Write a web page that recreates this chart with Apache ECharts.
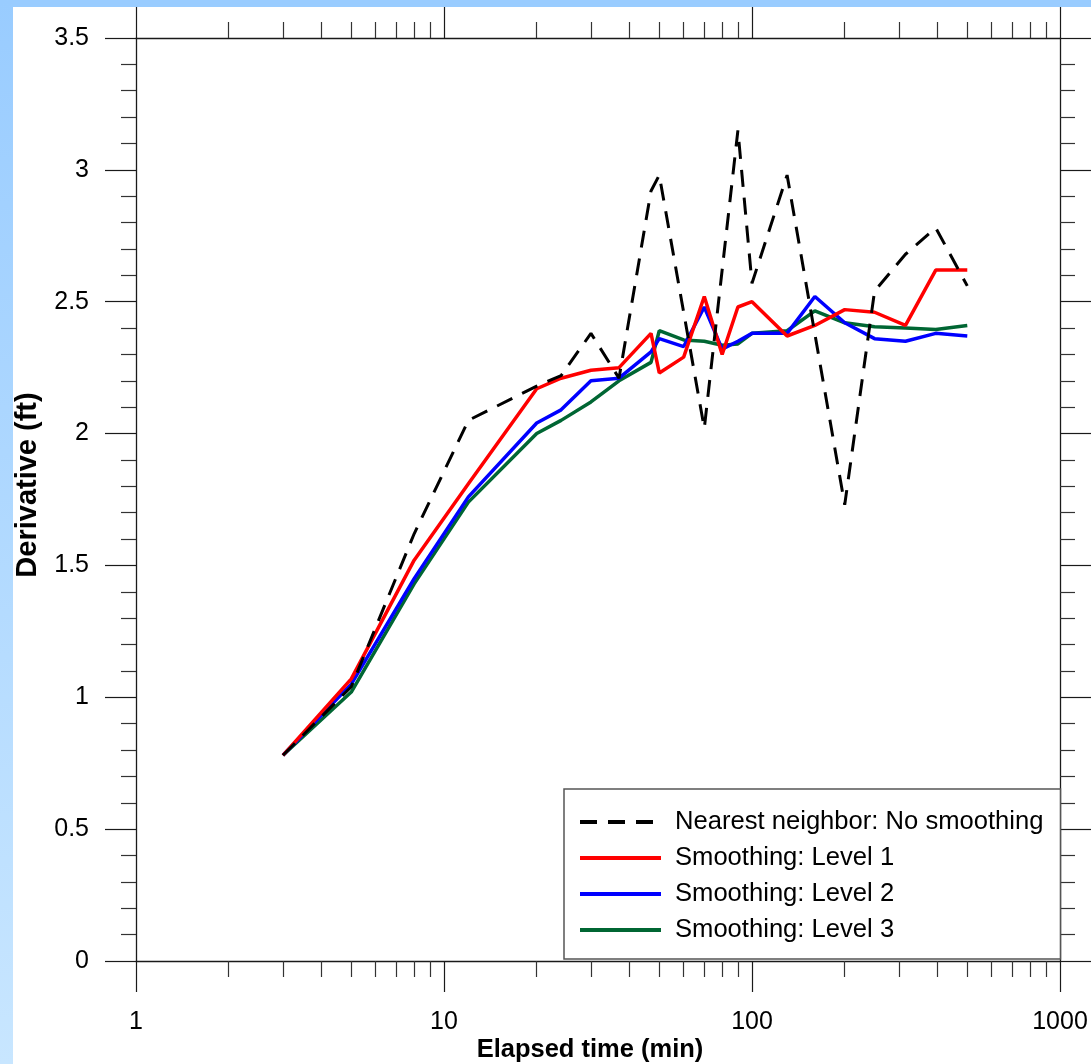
<!DOCTYPE html>
<html>
<head>
<meta charset="utf-8">
<title>Derivative vs elapsed time</title>
<script src="https://cdn.jsdelivr.net/npm/echarts@6/dist/echarts.min.js"></script>
<style>
  html, body { margin: 0; padding: 0; background: #ffffff; }
  #chart { width: 1091px; height: 1064px; }
</style>
</head>
<body>
<div id="chart"></div>
<script>
// Elapsed time (min) sample points
const timeSmooth = [3, 5, 8, 12, 20, 24, 30, 37, 47, 50, 60, 70, 80, 90, 100, 130, 160, 200, 250, 315, 395, 500];
const timeRaw = [3, 5, 8, 12, 20, 24, 30, 37, 47, 50, 70, 90, 100, 130, 200, 250, 315, 395, 500];

// Derivative (ft)
const nearestNeighbor = [0.78, 1.04, 1.62, 2.05, 2.18, 2.22, 2.38, 2.21, 2.92, 2.98, 2.02, 3.15, 2.57, 2.98, 1.73, 2.54, 2.68, 2.78, 2.56];
const smoothLevel1 = [0.78, 1.07, 1.52, 1.81, 2.17, 2.21, 2.24, 2.25, 2.38, 2.23, 2.29, 2.52, 2.30, 2.48, 2.50, 2.37, 2.41, 2.47, 2.46, 2.41, 2.62, 2.62];
const smoothLevel2 = [0.78, 1.05, 1.45, 1.76, 2.04, 2.09, 2.20, 2.21, 2.31, 2.36, 2.33, 2.48, 2.32, 2.35, 2.38, 2.38, 2.52, 2.42, 2.36, 2.35, 2.38, 2.37];
const smoothLevel3 = [0.78, 1.02, 1.43, 1.74, 2.00, 2.05, 2.12, 2.20, 2.27, 2.39, 2.355, 2.35, 2.335, 2.34, 2.38, 2.39, 2.465, 2.42, 2.405, 2.40, 2.395, 2.41];

const seriesNames = ['Nearest neighbor: No smoothing', 'Smoothing: Level 1', 'Smoothing: Level 2', 'Smoothing: Level 3'];

// Tick positions
const xMajorTicks = [1, 10, 100, 1000];
const xMinorTicks = [];
for (let d = 1; d <= 100; d *= 10) {
  for (let k = 2; k <= 9; k++) xMinorTicks.push(Math.log10(k * d));
}
const yMin = 0, yMax = 3.5, yStep = 0.5;

const pairs = (xs, ys) => xs.map((x, i) => [x, ys[i]]);

const FONT = 'Arial, "Liberation Sans", Helvetica, sans-serif';
const AXIS_COLOR = '#1a1a1a';
const GRID_BOX = { left: 136, top: 38, right: 31, bottom: 103, containLabel: false };

const chart = echarts.init(document.getElementById('chart'), null, { renderer: 'canvas' });

function logAxis(position, showLabel) {
  return {
    type: 'log', logBase: 10, min: xMajorTicks[0], max: xMajorTicks[xMajorTicks.length - 1],
    position: position, gridIndex: 0,
    axisLine: { show: true, onZero: false, lineStyle: { color: AXIS_COLOR, width: 1.3 } },
    axisTick: { show: true, inside: false, length: 31, lineStyle: { color: AXIS_COLOR, width: 1.2 } },
    axisLabel: {
      show: showLabel, color: '#000', fontFamily: FONT, fontSize: 25, margin: 49,
      formatter: v => String(Math.round(v))
    },
    minorTick: { show: false }, splitLine: { show: false }
  };
}
// decade sub-ticks (2..9) drawn on a companion grid in log10 units
function minorXAxis(position) {
  return {
    type: 'value', min: 0, max: 3, position: position, gridIndex: 1,
    axisLine: { show: false, onZero: false },
    axisTick: { show: true, inside: false, length: 16, customValues: xMinorTicks,
                lineStyle: { color: '#333', width: 1.2 } },
    axisLabel: { show: false }, splitLine: { show: false }
  };
}
function yValueAxis(position, showLabel, gridIndex) {
  return {
    type: 'value', min: yMin, max: yMax, interval: yStep, position: position, gridIndex: gridIndex,
    axisLine: { show: gridIndex === 0, onZero: false, lineStyle: { color: AXIS_COLOR, width: 1.3 } },
    axisTick: { show: gridIndex === 0, inside: false, length: 31, lineStyle: { color: AXIS_COLOR, width: 1.2 } },
    minorTick: { show: gridIndex === 0, splitNumber: 5, length: 15, lineStyle: { color: '#333', width: 1.2 } },
    axisLabel: { show: showLabel, color: '#000', fontFamily: FONT, fontSize: 25, margin: 47 },
    splitLine: { show: false }
  };
}

const lineSeries = (name, xs, ys, color, z, dashed) => ({
  name: name, type: 'line', xAxisIndex: 0, yAxisIndex: 0,
  data: pairs(xs, ys), symbol: 'none', showSymbol: false, z: z,
  lineStyle: { color: color, width: dashed ? 3 : 3.5, type: dashed ? [17, 11] : 'solid' },
  itemStyle: { color: color },
  animation: false
});

chart.setOption({
  backgroundColor: '#ffffff',
  animation: false,
  grid: [Object.assign({}, GRID_BOX), Object.assign({}, GRID_BOX)],
  xAxis: [logAxis('bottom', true), logAxis('top', false), minorXAxis('bottom'), minorXAxis('top')],
  yAxis: [yValueAxis('left', true, 0), yValueAxis('right', false, 0), yValueAxis('left', false, 1)],
  legend: {
    orient: 'vertical', left: 564, top: 789,
    data: seriesNames,
    backgroundColor: '#ffffff', borderColor: '#555555', borderWidth: 1.5, borderRadius: 0,
    padding: [20, 17, 16, 14],
    itemWidth: 81, itemHeight: 14, itemGap: 10,
    itemStyle: { opacity: 0 },
    lineStyle: { width: 4 },
    textStyle: { color: '#000', fontFamily: FONT, fontSize: 25.6, lineHeight: 26, padding: [0, 0, 0, 9] },
    selectedMode: false
  },
  graphic: [
    { type: 'rect', shape: { x: 0, y: 0, width: 1091, height: 7 }, style: { fill: '#99ccff' }, silent: true, z: -10 },
    { type: 'rect', shape: { x: 0, y: 0, width: 13, height: 1064 }, silent: true, z: -10,
      style: { fill: new echarts.graphic.LinearGradient(0, 0, 0, 1, [
        { offset: 0, color: '#99ccff' }, { offset: 1, color: '#c8e6ff' }]) } },
    { type: 'text', x: 590, y: 1050, style: { text: 'Elapsed time (min)', x: 0, y: 0,
      fill: '#000', font: 'bold 25.5px ' + FONT, textAlign: 'center', textVerticalAlign: 'middle' } },
    { type: 'text', rotation: Math.PI / 2, x: 28, y: 485, style: { text: 'Derivative (ft)', x: 0, y: 0,
      fill: '#000', font: 'bold 29px ' + FONT, textAlign: 'center', textVerticalAlign: 'middle' } }
  ],
  series: [
    lineSeries(seriesNames[0], timeRaw, nearestNeighbor, '#000000', 6, true),
    lineSeries(seriesNames[1], timeSmooth, smoothLevel1, '#ff0000', 5, false),
    lineSeries(seriesNames[2], timeSmooth, smoothLevel2, '#0000ff', 4, false),
    lineSeries(seriesNames[3], timeSmooth, smoothLevel3, '#006633', 3, false)
  ]
});
</script>
</body>
</html>
